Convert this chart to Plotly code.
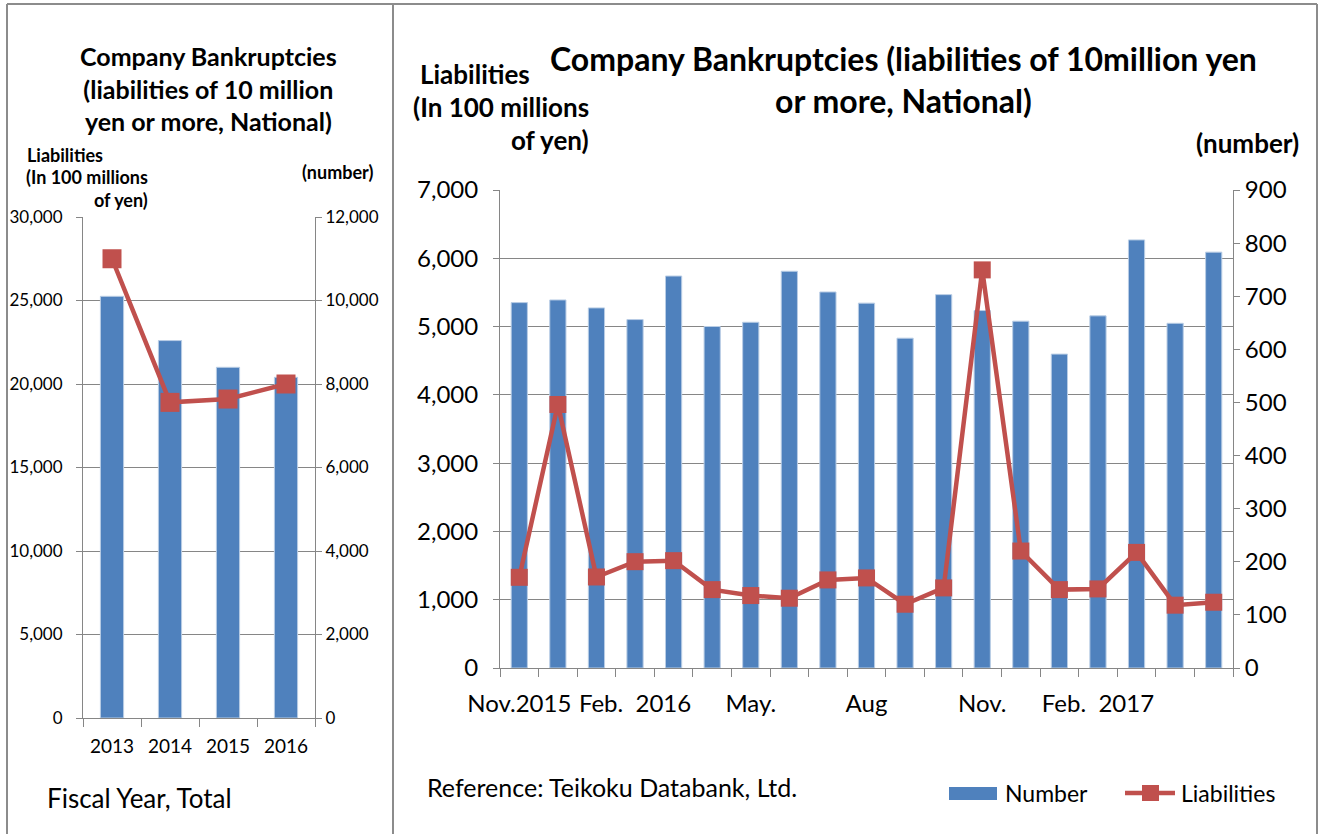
import plotly.graph_objects as go

# ---------- data ----------
fy_years = ["2013", "2014", "2015", "2016"]
fy_number = [10100, 9040, 8400, 8160]
fy_liabilities = [27500, 18900, 19100, 20000]

months = ["2015-11", "2015-12", "2016-01", "2016-02", "2016-03", "2016-04", "2016-05",
          "2016-06", "2016-07", "2016-08", "2016-09", "2016-10", "2016-11", "2016-12",
          "2017-01", "2017-02", "2017-03", "2017-04", "2017-05"]
month_labels = ["Nov.2015", "", "", "Feb.  2016", "", "", "May.", "", "", "Aug", "", "",
                "Nov.", "", "", "Feb.  2017", "", "", ""]
m_number = [688, 693, 678, 656, 738, 643, 651, 747, 708, 687, 621, 703, 673, 653, 591, 663, 806, 649, 783]
m_liabilities = [1328, 3859, 1333, 1557, 1572, 1148, 1061, 1022, 1290, 1319, 934, 1173, 5830,
                 1713, 1148, 1158, 1693, 920, 963]

BLUE = "#4F81BD"
RED = "#C0504D"
GRID = "#868686"
FONT = "Lato, 'Open Sans', sans-serif"
W, H = 1327, 834

def px(x):
    return x / W

def py(y):
    return (H - y) / H

fig = go.Figure()

# left panel
fig.add_trace(go.Bar(x=fy_years, y=fy_number, name="Number", marker=dict(color=BLUE, line=dict(color="#B9CDE5", width=1)),
                     width=0.4, xaxis="x", yaxis="y", showlegend=False))
fig.add_trace(go.Scatter(x=fy_years, y=fy_liabilities, name="Liabilities", mode="lines+markers",
                         line=dict(color=RED, width=4.5), marker=dict(symbol="square", size=19, color=RED),
                         xaxis="x", yaxis="y2", showlegend=False))
# right panel
fig.add_trace(go.Bar(x=months, y=m_number, name="Number", marker=dict(color=BLUE, line=dict(color="#B9CDE5", width=1)),
                     width=0.42, xaxis="x3", yaxis="y3", showlegend=False))
fig.add_trace(go.Scatter(x=months, y=m_liabilities, name="Liabilities", mode="lines+markers",
                         line=dict(color=RED, width=4.5), marker=dict(symbol="square", size=17, color=RED),
                         xaxis="x3", yaxis="y4", showlegend=False))

axis_common = dict(showline=True, linecolor=GRID, linewidth=1, ticks="outside", tickcolor=GRID,
                   ticklen=6, zeroline=False, fixedrange=True, automargin=False)

lx0, lx1, ly0, ly1 = 83, 315, 217, 718
rx0, rx1, ry0, ry1 = 500, 1233, 190, 668

fig.update_layout(
    width=W, height=H, margin=dict(l=0, r=0, t=0, b=0, pad=0, autoexpand=False),
    paper_bgcolor="white", plot_bgcolor="white",
    font=dict(family=FONT, color="black"),
    showlegend=False,
    xaxis=dict(axis_common, domain=[px(lx0), px(lx1)], anchor="y", type="category", tickson="boundaries",
               range=[-0.5, len(fy_years) - 0.5],
               ticklen=8, tickfont=dict(size=19), ticklabelstandoff=11),
    yaxis=dict(axis_common, domain=[py(ly1), py(ly0)], anchor="x", side="right", range=[0, 12000],
               dtick=2000, tickformat=",", showgrid=False, tickfont=dict(size=17)),
    yaxis2=dict(axis_common, overlaying="y", anchor="x", side="left", range=[0, 30000], dtick=5000,
                tickformat=",", showgrid=True, gridcolor=GRID, tickfont=dict(size=17), ticklabelstandoff=10),
    xaxis3=dict(axis_common, domain=[px(rx0), px(rx1)], anchor="y3", type="category", tickson="boundaries",
                range=[-0.5, len(months) - 0.5],
                tickmode="array", tickvals=months, ticktext=month_labels, ticklen=8,
                tickfont=dict(size=24), ticklabelstandoff=14, tickangle=0),
    yaxis3=dict(axis_common, domain=[py(ry1), py(ry0)], anchor="x3", side="right", range=[0, 900],
                dtick=100, showgrid=False, tickfont=dict(size=24)),
    yaxis4=dict(axis_common, overlaying="y3", anchor="x3", side="left", range=[0, 7000], dtick=1000,
                tickformat=",", showgrid=True, gridcolor=GRID, tickfont=dict(size=24), ticklabelstandoff=10),
)

ann = []
def text(x, y, s, size, bold=False, xanchor="center", align="center"):
    ann.append(dict(x=px(x), y=py(y), xref="paper", yref="paper", text=(f"<b>{s}</b>" if bold else s),
                    showarrow=False, font=dict(size=size, family=FONT, color="black"),
                    xanchor=xanchor, yanchor="middle", align=align))

# left panel texts
text(208, 88, "Company Bankruptcies<br>(liabilities of 10 million<br>yen or more, National)", 25, bold=True)
text(25, 155, "Liabilities", 18, bold=True, xanchor="left")
text(150, 177, "(In 100 millions", 18, bold=True, xanchor="right")
text(150, 200, "of yen)", 18, bold=True, xanchor="right")
text(375, 172, "(number)", 18, bold=True, xanchor="right")
text(45, 798, "Fiscal Year, Total", 26, xanchor="left")

# right panel texts
text(903, 80, "Company Bankruptcies (liabilities of 10million yen<br>or more, National)", 32, bold=True)
text(418, 74, "Liabilities", 26, bold=True, xanchor="left")
text(591, 107, "(In 100 millions", 26, bold=True, xanchor="right")
text(591, 140, "of yen)", 26, bold=True, xanchor="right")
text(1301, 143, "(number)", 26, bold=True, xanchor="right")
text(425, 787, "Reference: Teikoku Databank, Ltd.", 25, xanchor="left")
text(1003, 793, "Number", 23, xanchor="left")
text(1179, 793, "Liabilities", 23, xanchor="left")
fig.update_layout(annotations=ann)

# legend symbols + frame
shapes = [
    dict(type="rect", xref="paper", yref="paper", x0=px(949), x1=px(997), y0=py(800), y1=py(787),
         fillcolor=BLUE, line=dict(width=0)),
    dict(type="line", xref="paper", yref="paper", x0=px(1125), x1=px(1175), y0=py(793), y1=py(793),
         line=dict(color=RED, width=4.5)),
    dict(type="rect", xref="paper", yref="paper", x0=px(1142), x1=px(1159), y0=py(801), y1=py(785),
         fillcolor=RED, line=dict(width=0)),
    # frame
    dict(type="line", xref="paper", yref="paper", x0=px(7), x1=px(1317), y0=py(4), y1=py(4),
         line=dict(color="#8C8C8C", width=2)),
    dict(type="line", xref="paper", yref="paper", x0=px(7), x1=px(7), y0=py(4), y1=py(834),
         line=dict(color="#8C8C8C", width=2)),
    dict(type="line", xref="paper", yref="paper", x0=px(393), x1=px(393), y0=py(4), y1=py(834),
         line=dict(color="#8C8C8C", width=2)),
    dict(type="line", xref="paper", yref="paper", x0=px(1317), x1=px(1317), y0=py(4), y1=py(834),
         line=dict(color="#8C8C8C", width=2)),
]
fig.update_layout(shapes=shapes)

fig.write_html("out.html", config={"displayModeBar": False},
               post_script="document.body.style.margin='0';document.body.style.overflow='hidden';")
